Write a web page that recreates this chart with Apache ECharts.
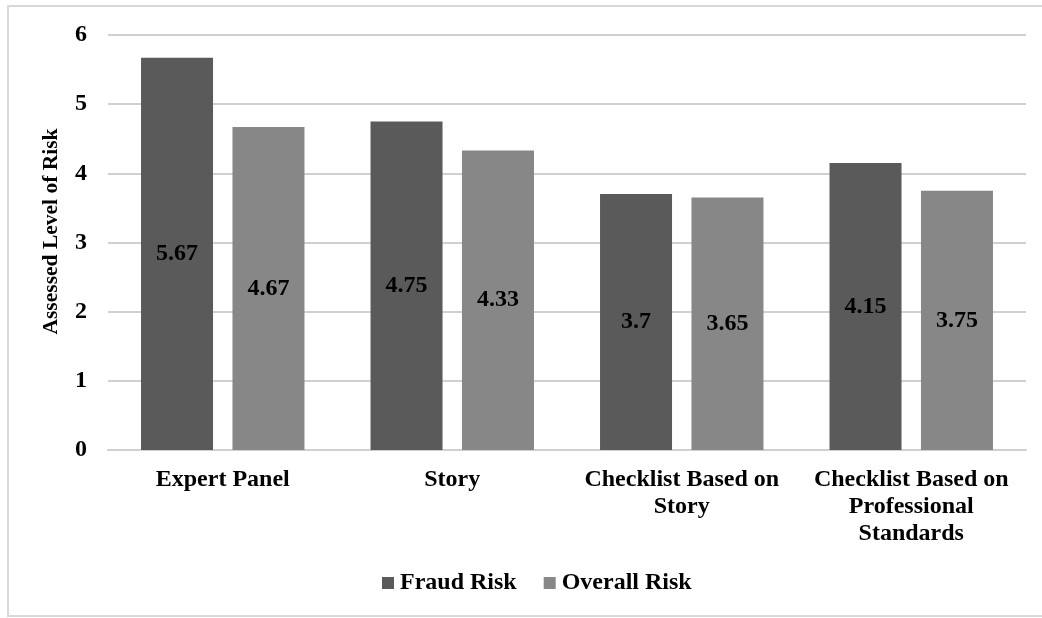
<!DOCTYPE html>
<html>
<head>
<meta charset="utf-8">
<script src="https://cdn.jsdelivr.net/npm/echarts@6/dist/echarts.min.js"></script>
<style>
html,body{margin:0;padding:0;background:#fff;}
#chart{width:1042px;height:618px;}
</style>
</head>
<body>
<div id="chart"></div>
<script>
// Assessed risk levels by assessment method
const categories = ['Expert Panel', 'Story', 'Checklist Based on\nStory', 'Checklist Based on\nProfessional\nStandards'];
const fraudRisk = [5.67, 4.75, 3.7, 4.15];
const overallRisk = [4.67, 4.33, 3.65, 3.75];
const seriesNames = ['Fraud Risk', 'Overall Risk'];
const yTicks = [0, 1, 2, 3, 4, 5, 6];

const FONT = '"Liberation Serif", "Times New Roman", serif';
const chart = echarts.init(document.getElementById('chart'));

const labelStyle = {
  show: true,
  position: 'inside',
  color: '#000',
  fontFamily: FONT,
  fontWeight: 'bold',
  fontSize: 24
};

chart.setOption({
  animation: false,
  backgroundColor: '#fff',
  graphic: [{
    type: 'rect',
    shape: { x: 8, y: 6, width: 1040, height: 610 },
    style: { fill: 'none', stroke: '#d9d9d9', lineWidth: 2 },
    silent: true
  }],
  grid: { left: 108, right: 16, top: 35, bottom: 168, containLabel: false },
  legend: {
    data: seriesNames,
    bottom: 18,
    left: 377,
    itemWidth: 12,
    itemHeight: 12,
    itemGap: 27,
    icon: 'rect',
    textStyle: { fontFamily: FONT, fontWeight: 'bold', fontSize: 24, color: '#000', padding: [0, 0, 0, 1] }
  },
  xAxis: {
    type: 'category',
    data: categories,
    axisLine: { show: true, lineStyle: { color: '#d0d0d0', width: 2 } },
    axisTick: { show: false },
    axisLabel: {
      interval: 0,
      margin: 16,
      fontFamily: FONT,
      fontWeight: 'bold',
      fontSize: 24,
      color: '#000',
      lineHeight: 27
    }
  },
  yAxis: {
    type: 'value',
    min: yTicks[0],
    max: yTicks[yTicks.length - 1],
    interval: 1,
    name: 'Assessed Level of Risk',
    nameLocation: 'middle',
    nameGap: 46,
    nameRotate: 90,
    nameTextStyle: { fontFamily: FONT, fontWeight: 'bold', fontSize: 21.5, color: '#000', padding: [0, 0, 0, 22] },
    axisLine: { show: false },
    axisTick: { show: false },
    axisLabel: { margin: 21, fontFamily: FONT, fontWeight: 'bold', fontSize: 24, color: '#000' },
    splitLine: { lineStyle: { color: '#d0d0d0', width: 2 } }
  },
  series: [
    {
      name: seriesNames[0],
      type: 'bar',
      data: fraudRisk,
      barWidth: 72,
      barGap: '27%',
      itemStyle: { color: '#5a5a5a' },
      label: labelStyle
    },
    {
      name: seriesNames[1],
      type: 'bar',
      data: overallRisk,
      barWidth: 72,
      barGap: '27%',
      itemStyle: { color: '#878787' },
      label: labelStyle
    }
  ]
});
</script>
</body>
</html>
